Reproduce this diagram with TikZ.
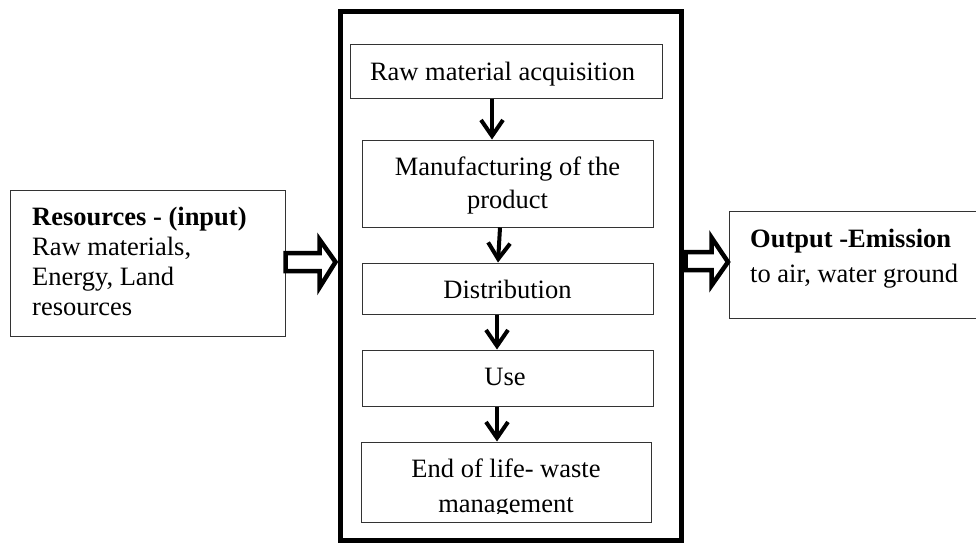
\documentclass[tikz,border=0pt]{standalone}
\usepackage{fontspec}
\setmainfont{Liberation Serif}
\usetikzlibrary{arrows.meta,calc}
\begin{document}
\begin{tikzpicture}[x=1pt,y=-1pt,
  box/.style={draw=black!80, line width=1pt, rectangle, inner sep=0pt},
  frame/.style={draw=black, line width=5pt, rectangle, inner sep=0pt},
  lbl/.style={anchor=base, inner sep=0pt, font=\fontsize{26.5}{30}\selectfont},
  lbll/.style={lbl, anchor=base west},
  flow/.style={line width=4pt, -{Straight Barb[length=16pt,width=22pt,line width=4pt]}},
  hollow/.style={draw=black, line width=4.5pt, line join=miter, fill=white}]
\useasboundingbox (0,0) rectangle (976,543);

% life-cycle frame and its stages
\node[frame, minimum width=341pt, minimum height=528pt] (lca) at (510.5,276) {};
\node[box, minimum width=312pt, minimum height=53pt] (raw)  at (506,71.5) {};
\node[box, minimum width=291pt, minimum height=87pt] (manu) at (507.5,183.5) {};
\node[box, minimum width=291pt, minimum height=51pt] (dist) at (507.5,288.5) {};
\node[box, minimum width=291pt, minimum height=56pt] (use)  at (507.5,378) {};
\node[box, minimum width=290pt, minimum height=80pt] (eol)  at (506,482) {};

% input and output boxes
\node[box, minimum width=275pt, minimum height=146pt] (src) at (147.5,263) {};
\node[box, minimum width=249pt, minimum height=107pt] (out) at (853.5,264.5) {};

% stage labels
\node[lbl] (rawt)   at (502.5,80)  {Raw material acquisition};
\node[lbl] (manut1) at (507.5,175) {Manufacturing of the};
\node[lbl] (manut2) at (507.5,208) {product};
\node[lbl] (distt)  at (507.5,298) {Distribution};
\node[lbl] (uset)   at (505,385)   {Use};
\node[lbl] (eolt1)  at (506,477)   {End of life- waste};
\begin{scope}
  \clip (eol.north west) rectangle ([yshift=9pt]eol.south east);
  \node[lbl] (eolt2) at (506,512) {management};
\end{scope}

% input text
\node[lbll] (srct1) at (32,225) {\bfseries Resources - (input)};
\node[lbll] (srct2) at (32,255) {Raw materials,};
\node[lbll] (srct3) at (32,285) {Energy, Land};
\node[lbll] (srct4) at (32,315) {resources};

% output text
\node[lbll] (outt1) at (750,247) {\bfseries Output -Emission};
\node[lbll] (outt2) at (750,282) {to air, water ground};

% flow between stages
\draw[flow] ([xshift=-14pt]raw.south)   -- ([xshift=-15.5pt]manu.north);
\draw[flow] ([xshift=-7.5pt]manu.south) -- ([xshift=-9.5pt]dist.north);
\draw[flow] ([xshift=-10.5pt]dist.south) -- ([xshift=-10.5pt]use.north);
\draw[flow] ([xshift=-10.5pt]use.south)  -- ([xshift=-9pt]eol.north);

% hollow block arrows: input -> frame -> output
\draw[hollow] ($(src.east)+(0,-10)$) -- ($(src.east)+(34,-10)$)
  -- ($(src.east)+(34,-23.5)$) -- ($(lca.west |- src.east)+(-2,-1)$)
  -- ($(src.east)+(34,24.5)$) -- ($(src.east)+(34,8)$)
  -- ($(src.east)+(0,8)$) -- cycle;
\draw[hollow] ($(lca.east |- out.west)+(2,-12.5)$) -- ($(lca.east |- out.west)+(28,-12.5)$)
  -- ($(lca.east |- out.west)+(28,-27)$) -- ($(out.west)+(-0.5,-2.5)$)
  -- ($(lca.east |- out.west)+(28,21)$) -- ($(lca.east |- out.west)+(28,5.5)$)
  -- ($(lca.east |- out.west)+(2,5.5)$) -- cycle;
\end{tikzpicture}
\end{document}
